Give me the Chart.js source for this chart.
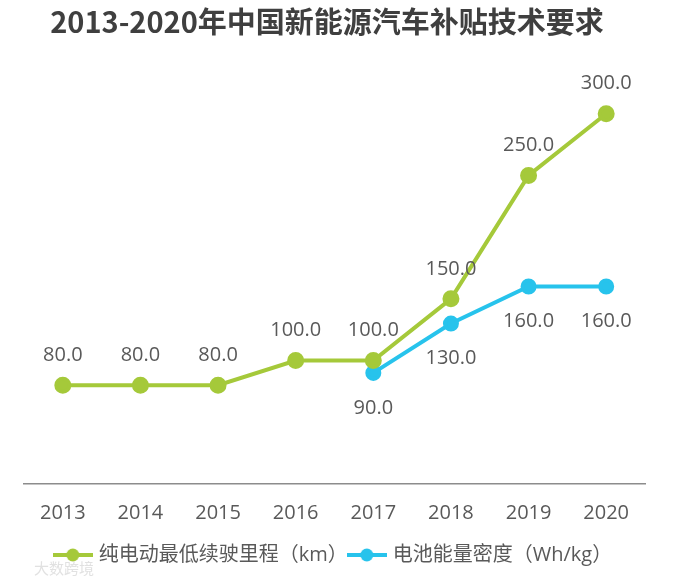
<!DOCTYPE html>
<html>
<head>
<meta charset="utf-8">
<script src="https://cdn.jsdelivr.net/npm/chart.js@4"></script>
<style>
  body { margin: 0; background: #fff; }
  #wrap { width: 676px; height: 580px; }
</style>
</head>
<body>
<div id="wrap"><canvas id="subsidy-chart" width="676" height="580"></canvas></div>
<script>
// data
const years = ['2013', '2014', '2015', '2016', '2017', '2018', '2019', '2020'];
const rangeKm = [80, 80, 80, 100, 100, 150, 250, 300];
const energyDensity = [null, null, null, null, 90, 130, 160, 160];
const seriesNames = ['纯电动最低续驶里程（km）', '电池能量密度（Wh/kg）'];
const chartTitle = '2013-2020年中国新能源汽车补贴技术要求';

const GREEN = '#a5c93a';
const BLUE = '#27c3ec';
const TEXT = '#595959';
const FONT = '"Open Sans", "Noto Sans CJK SC", sans-serif';

// legend marker: short line with a dot in the middle
function legendMarker(color) {
    const c = document.createElement('canvas');
    c.width = 40; c.height = 14;
    const g = c.getContext('2d');
    g.strokeStyle = color;
    g.lineWidth = 4;
    g.beginPath();
    g.moveTo(0, 7); g.lineTo(40, 7);
    g.stroke();
    g.fillStyle = color;
    g.beginPath();
    g.arc(20, 7, 6.5, 0, Math.PI * 2);
    g.fill();
    return c;
}

const valueLabels = {
    id: 'valueLabels',
    afterDatasetsDraw(chart) {
        const ctx = chart.ctx;
        ctx.save();
        ctx.font = '20px ' + FONT;
        ctx.fillStyle = TEXT;
        ctx.textAlign = 'center';
        ctx.textBaseline = 'middle';
        chart.data.datasets.forEach((ds, i) => {
            const meta = chart.getDatasetMeta(i);
            const off = i === 0 ? -30 : 35;
            meta.data.forEach((pt, j) => {
                const v = ds.data[j];
                if (v === null || v === undefined) return;
                ctx.fillText(v.toFixed(1), pt.x, pt.y + off);
            });
        });
        ctx.restore();
    }
};

// title drawn by hand so it sits a little left of centre like the original
const titleAndMark = {
    id: 'titleAndMark',
    afterDraw(chart) {
        const ctx = chart.ctx;
        ctx.save();
        ctx.font = 'bold 29px "Noto Sans CJK SC", sans-serif';
        ctx.fillStyle = '#3f3f3f';
        ctx.textAlign = 'center';
        ctx.textBaseline = 'middle';
        ctx.fillText(chartTitle, 327, 22);

        ctx.font = '15px "Noto Sans CJK SC", sans-serif';
        ctx.fillStyle = 'rgba(200,200,200,0.55)';
        ctx.textAlign = 'left';
        ctx.fillText('大数跨境', 34, 568);
        ctx.restore();
    }
};

const ctx = document.getElementById('subsidy-chart').getContext('2d');
new Chart(ctx, {
    type: 'line',
    data: {
        labels: years,
        datasets: [
            {
                label: seriesNames[0],
                data: rangeKm,
                borderColor: GREEN,
                backgroundColor: GREEN,
                borderWidth: 4,
                pointRadius: 6.5,
                pointHoverRadius: 6.5,
                pointStyle: 'circle',
                tension: 0
            },
            {
                label: seriesNames[1],
                data: energyDensity,
                borderColor: BLUE,
                backgroundColor: BLUE,
                borderWidth: 4,
                pointRadius: 6,
                pointHoverRadius: 6,
                pointStyle: 'circle',
                tension: 0
            }
        ]
    },
    options: {
        responsive: false,
        animation: false,
        layout: { padding: { left: 24, right: 31, top: 52, bottom: 5 } },
        scales: {
            x: {
                offset: true,
                grid: { display: false, drawTicks: false },
                border: { color: '#8c8c8c', width: 1.5 },
                ticks: { color: TEXT, font: { family: FONT, size: 20 }, padding: 17 }
            },
            y: {
                display: false,
                min: 0,
                max: 350
            }
        },
        plugins: {
            title: { display: false },
            legend: {
                position: 'bottom',
                labels: {
                    usePointStyle: true,
                    pointStyleWidth: 32,
                    color: TEXT,
                    font: { family: FONT, size: 20 },
                    padding: 3,
                    generateLabels(chart) {
                        return chart.data.datasets.map((ds, i) => ({
                            text: ds.label,
                            fillStyle: ds.borderColor,
                            strokeStyle: ds.borderColor,
                            lineWidth: 0,
                            pointStyle: legendMarker(ds.borderColor),
                            fontColor: TEXT,
                            hidden: false,
                            datasetIndex: i
                        }));
                    }
                }
            },
            tooltip: { enabled: false }
        }
    },
    plugins: [valueLabels, titleAndMark]
});
</script>
</body>
</html>
